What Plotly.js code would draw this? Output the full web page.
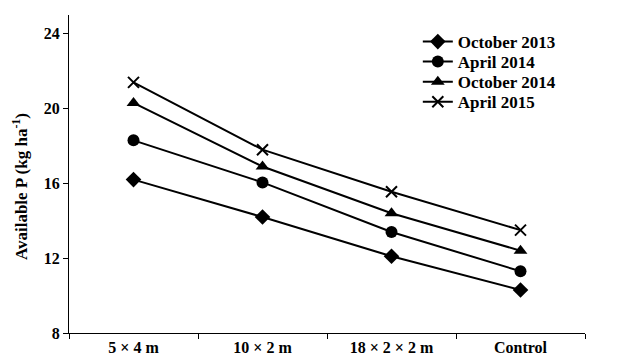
<!DOCTYPE html>
<html>
<head>
<meta charset="utf-8">
<script src="https://cdn.plot.ly/plotly-3.0.1.min.js"></script>
<style>html,body{margin:0;padding:0;background:#fff;}#chart{width:636px;height:358px;}</style>
</head>
<body>
<div id="chart"></div>
<script>
var categories = ["5 × 4 m", "10 × 2 m", "18 × 2 × 2 m", "Control"];
var seriesNames = ["October 2013", "April 2014", "October 2014", "April 2015"];
var oct2013 = [16.2, 14.2, 12.1, 10.3];
var apr2014 = [18.3, 16.05, 13.4, 11.3];
var oct2014 = [20.3, 16.9, 14.4, 12.4];
var apr2015 = [21.4, 17.8, 15.55, 13.5];
var yTicks = [8, 12, 16, 20, 24];
var yTitle = "Available P (kg ha<sup>-1</sup>)";

var seriesValues = [oct2013, apr2014, oct2014, apr2015];
var symbols = ["diamond", "circle", "triangle-up", "x-thin-open"];
var sizes = [12, 12, 12, 11];
var legendIds = ["legend", "legend2", "legend3", "legend4"];
var legendY = [0.915, 0.852, 0.789, 0.726];

var traces = seriesValues.map(function(v, i) {
  return {
    x: categories, y: v, name: seriesNames[i], type: "scatter", mode: "lines+markers",
    legend: legendIds[i],
    line: {color: "#000", width: 2},
    marker: {symbol: symbols[i], size: sizes[i], color: "#000", line: {color: "#000", width: i === 3 ? 2 : 0}}
  };
});

var fam = "Liberation Serif, Times New Roman, serif";
var boldFont = function(s) { return {family: fam, size: s, color: "#000", weight: "bold"}; };
var layout = {
  width: 636, height: 358,
  margin: {l: 69, r: 51, t: 15, b: 25},
  paper_bgcolor: "#fff", plot_bgcolor: "#fff",
  font: {family: fam, color: "#000", size: 14},
  showlegend: true,
  xaxis: {type: "category", range: [-0.5, 3.5], showline: true, linecolor: "#000", linewidth: 1,
          ticks: "outside", tickson: "boundaries", ticklen: 5, tickcolor: "#000",
          showgrid: false, zeroline: false, tickfont: boldFont(16)},
  yaxis: {range: [8, 25], tickvals: yTicks, showline: true, linecolor: "#000", linewidth: 1,
          ticks: "outside", ticklen: 5, tickcolor: "#000", showgrid: false, zeroline: false,
          tickfont: boldFont(16)},
  annotations: [{text: yTitle, xref: "paper", yref: "paper", x: -0.095, y: 0.462,
                 xanchor: "center", yanchor: "middle", textangle: -90, showarrow: false,
                 font: boldFont(17)}]
};
legendIds.forEach(function(id, i) {
  layout[id] = {x: 0.676, y: legendY[i], xanchor: "left", yanchor: "middle",
                bgcolor: "rgba(0,0,0,0)", font: boldFont(17), itemwidth: 30};
});
Plotly.newPlot("chart", traces, layout, {staticPlot: true, displayModeBar: false});
</script>
</body>
</html>
